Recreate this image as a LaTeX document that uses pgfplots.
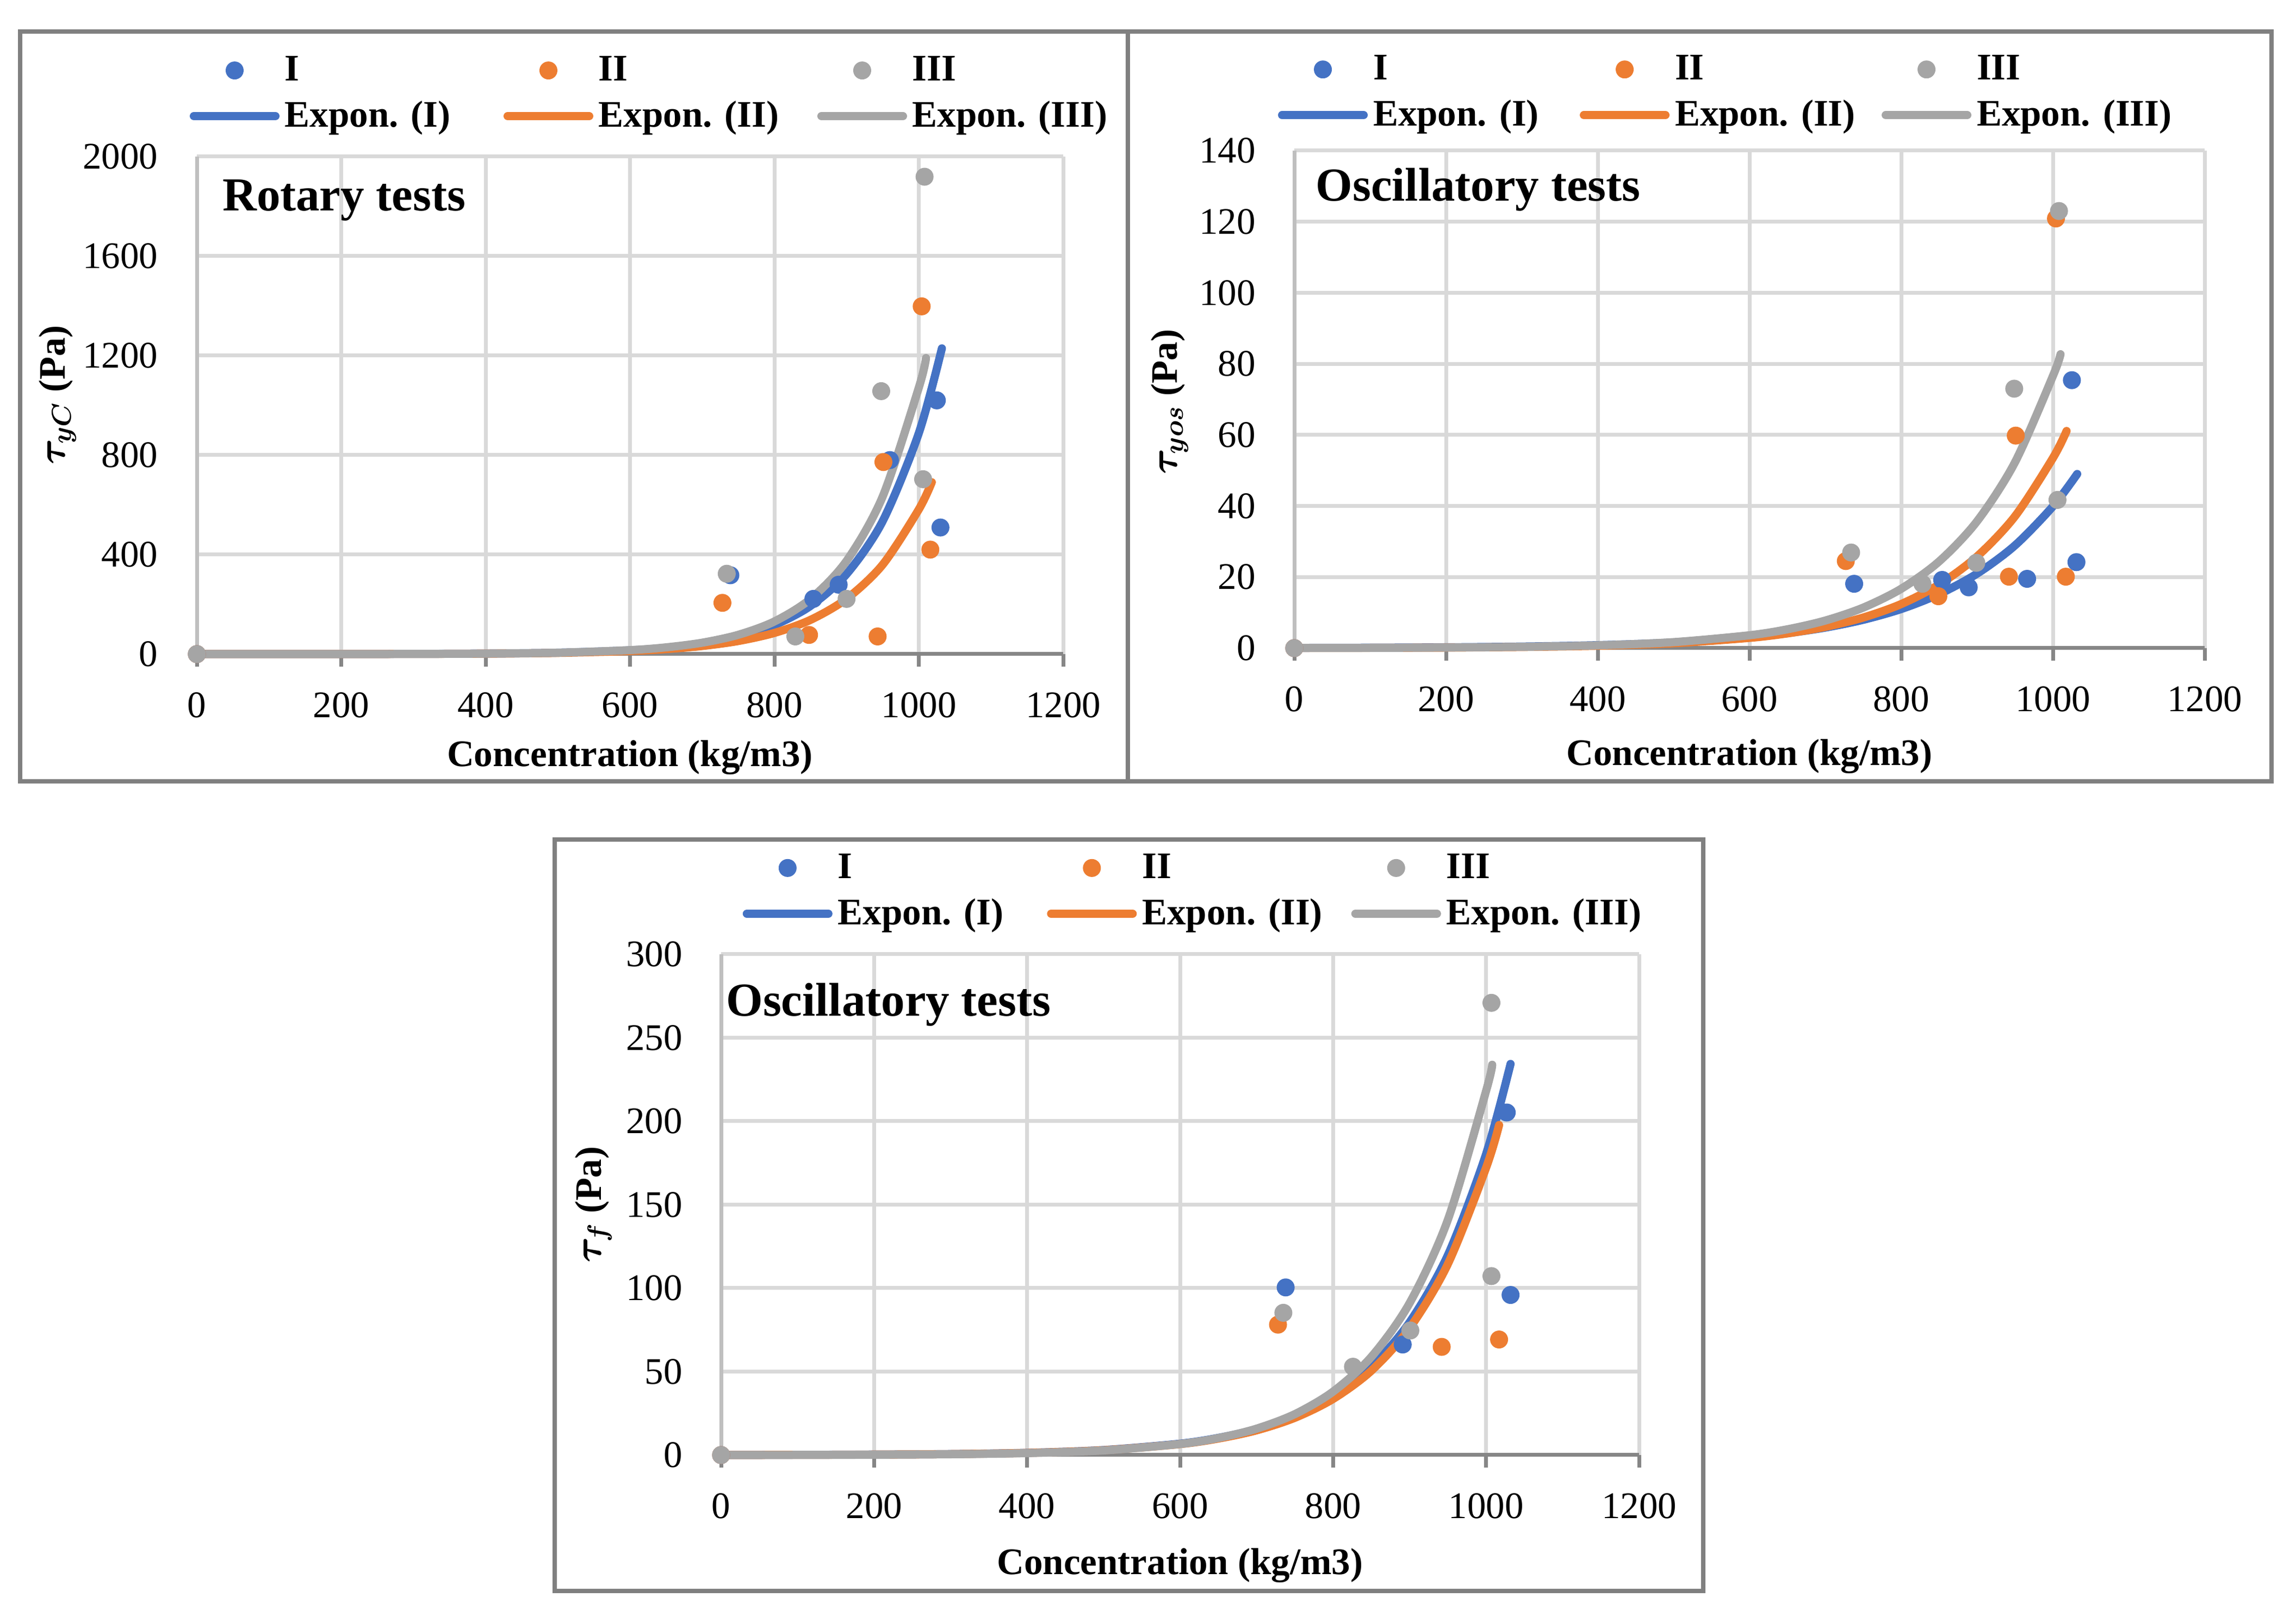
\documentclass[border=0pt]{standalone}
\usepackage{fontspec}
\setmainfont{Liberation Serif}
\usepackage{bm}
\usepackage{pgfplots}
\pgfplotsset{compat=1.18}

\definecolor{blueI}{HTML}{4472C4}
\definecolor{orangeII}{HTML}{ED7D31}
\definecolor{grayIII}{HTML}{A5A5A5}
\definecolor{gridgray}{HTML}{D9D9D9}
\definecolor{xaxgray}{HTML}{868686}
\definecolor{yaxgray}{HTML}{BFBFBF}
\definecolor{framegray}{HTML}{808080}

\newcommand{\chartfont}{\fontsize{13.8}{16}\selectfont}
\newcommand{\legbox}[1]{\makebox[68pt][l]{#1}}

\pgfplotsset{
  panel/.style={
    scale only axis, anchor=south west, clip=false,
    xmin=0, xmax=1200, xtick={0,200,...,1200}, ymin=0,
    axis x line*=bottom, axis y line*=left,
    grid=major, major grid style={draw=gridgray, line width=1.4pt},
    x axis line style={draw=xaxgray, line width=1.4pt},
    y axis line style={draw=yaxgray, line width=1.4pt},
    xtick style={draw=xaxgray, line width=1.4pt},
    ytick style={draw=none},
    tick align=outside, major tick length=4.6pt,
    /pgf/number format/assume math mode=true,
    /pgf/number format/1000 sep={},
    tick label style={font=\chartfont, inner sep=0pt},
    xticklabel style={yshift=-9.4pt},
    yticklabel style={xshift=-9.5pt},
    label style={font=\chartfont\bfseries, inner sep=0pt},
    title style={font=\fontsize{17.4}{20}\selectfont\bfseries, inner sep=0pt, anchor=base west},
    xlabel={Concentration (kg/m3)},
    legend columns=3,
    legend style={draw=none, fill=none, inner sep=0pt, row sep=2pt,
      font=\chartfont\bfseries, anchor=south west,
      /tikz/every odd column/.append style={column sep=0pt}},
  },
  dots/.style={only marks, mark=*, mark size=3.1pt, color=#1},
  trend/.style={no markers, smooth, color=#1, line width=3pt, line cap=round},
}

\begin{document}
\begin{tikzpicture}
\path (0pt,0pt) rectangle (844.4pt,592.2pt);
\draw[framegray, line width=1.6pt] (7.4pt,304.8pt) rectangle (414.8pt,580.6pt);
\draw[framegray, line width=1.6pt] (414.8pt,304.8pt) rectangle (835.4pt,580.6pt);
\draw[framegray, line width=1.6pt] (204pt,7pt) rectangle (626.4pt,283.4pt);

% Rotary tests
\begin{axis}[panel, at={(72.4pt,351.6pt)}, width=318.6pt, height=183pt,
  ymax=2000, ytick={0,400,...,2000},
  title={Rotary tests},
  title style={at={(axis description cs:0.029,0.858)}},
  xlabel style={at={(axis description cs:0.5,-0.226)}, anchor=base},
  ylabel={$\bm{\tau_{yC}}$ (Pa)},
  ylabel style={at={(axis description cs:-0.161,0.521)}, anchor=center},
  legend image code/.code={\draw[mark repeat=2, mark phase=2, #1] plot coordinates {(1.5pt,0pt) (16.5pt,0pt) (31.5pt,0pt)};},
  legend style={at={(axis description cs:-0.0088,1.039)},
    /tikz/every even column/.append style={column sep=10.4pt}}]
\addplot[dots=blueI] coordinates {(0,0) (739,317) (854,222) (889,279) (960,780) (1025,1020) (1030,509)};
\addlegendentry{\legbox{I}}
\addplot[dots=orangeII] coordinates {(0,0) (728,206) (848,77) (943,71) (951,772) (1004,1398) (1016,420)};
\addlegendentry{\legbox{II}}
\addplot[dots=grayIII] coordinates {(0,0) (734,323) (829,71) (900,222) (948,1057) (1006,703) (1008,1919)};
\addlegendentry{\legbox{III}}
\addplot[trend=blueI] coordinates {(0,0.035) (100,0.096) (200,0.264) (300,0.73) (400,2.01) (500,5.55) (600,15.3) (650,25.5) (700,42.3) (750,70.2) (800,116.7) (850,193.8) (900,321.8) (950,534.6) (1000,888) (1032,1229)};
\addlegendentry{\legbox{Expon. (I)}}
\addplot[trend=orangeII] coordinates {(0,0.039) (100,0.102) (200,0.267) (300,0.697) (400,1.82) (500,4.76) (600,12.45) (650,20.1) (700,32.5) (750,52.6) (800,85.1) (850,137.6) (900,222.5) (950,359.7) (1000,581.6) (1018,691)};
\addlegendentry{\legbox{Expon. (II)}}
\addplot[trend=grayIII] coordinates {(0,0.03) (100,0.084) (200,0.241) (300,0.689) (400,1.97) (500,5.62) (600,16.1) (650,27.2) (700,45.9) (750,77.6) (800,131.2) (850,221.8) (900,374.9) (950,633.7) (1000,1071) (1010,1190)};
\addlegendentry{\legbox{Expon. (III)}}
\end{axis}

% Oscillatory tests, tau_yos
\begin{axis}[panel, at={(476pt,353.8pt)}, width=334.8pt, height=183pt,
  ymax=140, ytick={0,20,...,140},
  title={Oscillatory tests},
  title style={at={(axis description cs:0.023,0.8665)}},
  xlabel style={at={(axis description cs:0.5,-0.236)}, anchor=base},
  ylabel={$\bm{\tau_{yos}}$ (Pa)},
  ylabel style={at={(axis description cs:-0.137,0.495)}, anchor=center},
  legend image code/.code={\draw[mark repeat=2, mark phase=2, #1] plot coordinates {(1.5pt,0pt) (16.5pt,0pt) (31.5pt,0pt)};},
  legend style={at={(axis description cs:-0.0185,1.029)},
    /tikz/every even column/.append style={column sep=6pt}}]
\addplot[dots=blueI] coordinates {(0,0) (738,18.1) (854,19.2) (889,17.1) (966,19.5) (1025,75.4) (1031,24.2)};
\addlegendentry{\legbox{I}}
\addplot[dots=orangeII] coordinates {(0,0) (727,24.5) (849,14.6) (942,20.1) (951,59.8) (1004,120.9) (1017,20.1)};
\addlegendentry{\legbox{II}}
\addplot[dots=grayIII] coordinates {(0,0) (734,26.9) (828,18.1) (899,24.0) (949,73.0) (1006,41.7) (1008,123.0)};
\addlegendentry{\legbox{III}}
\addplot[trend=blueI] coordinates {(0,0.064) (100,0.121) (200,0.231) (300,0.44) (400,0.837) (500,1.59) (600,3.04) (650,4.19) (700,5.78) (750,7.97) (800,11.0) (850,15.2) (900,20.96) (950,28.9) (1000,39.9) (1032,49.0)};
\addlegendentry{\legbox{Expon. (I)}}
\addplot[trend=orangeII] coordinates {(0,0.036) (100,0.074) (200,0.154) (300,0.321) (400,0.667) (500,1.38) (600,2.88) (650,4.14) (700,5.97) (750,8.61) (800,12.4) (850,17.9) (900,25.8) (950,37.1) (1000,53.5) (1018,61.1)};
\addlegendentry{\legbox{Expon. (II)}}
\addplot[trend=grayIII] coordinates {(0,0.037) (100,0.080) (200,0.171) (300,0.367) (400,0.787) (500,1.69) (600,3.62) (650,5.30) (700,7.76) (750,11.4) (800,16.7) (850,24.4) (900,35.7) (950,52.3) (1000,76.6) (1010,82.7)};
\addlegendentry{\legbox{Expon. (III)}}
\end{axis}

% Oscillatory tests, tau_f
\begin{axis}[panel, at={(265.2pt,57pt)}, width=337.6pt, height=184.2pt,
  ymax=300, ytick={0,50,...,300},
  title={Oscillatory tests},
  title style={at={(axis description cs:0.005,0.844)}},
  xlabel style={at={(axis description cs:0.5,-0.238)}, anchor=base},
  ylabel={$\bm{\tau_{f}}$ (Pa)},
  ylabel style={at={(axis description cs:-0.139,0.50)}, anchor=center},
  legend image code/.code={\draw[mark repeat=2, mark phase=2, #1] plot coordinates {(1.5pt,0pt) (16.5pt,0pt) (31.5pt,0pt)};},
  legend style={at={(axis description cs:0.023,1.039)},
    /tikz/every even column/.append style={column sep=6.9pt}}]
\addplot[dots=blueI] coordinates {(0,0) (738,100.4) (891,66.2) (1027,205.2) (1032,95.9)};
\addlegendentry{\legbox{I}}
\addplot[dots=orangeII] coordinates {(0,0) (728,78.1) (942,64.8) (1017,69.2)};
\addlegendentry{\legbox{II}}
\addplot[dots=grayIII] coordinates {(0,0) (735,85.2) (826,52.9) (901,74.6) (1007,107.2) (1007,270.9)};
\addlegendentry{\legbox{III}}
\addplot[trend=blueI] coordinates {(0,0.05) (100,0.113) (200,0.257) (300,0.584) (400,1.32) (500,3.0) (600,6.81) (650,10.3) (700,15.4) (750,23.3) (800,35.0) (850,52.8) (900,79.5) (950,119.7) (1000,180.3) (1032,234.3)};
\addlegendentry{\legbox{Expon. (I)}}
\addplot[trend=orangeII] coordinates {(0,0.049) (100,0.110) (200,0.250) (300,0.565) (400,1.28) (500,2.89) (600,6.55) (650,9.86) (700,14.8) (750,22.3) (800,33.6) (850,50.5) (900,76.0) (950,114.4) (1000,172.1) (1017,197.7)};
\addlegendentry{\legbox{Expon. (II)}}
\addplot[trend=grayIII] coordinates {(0,0.035) (100,0.084) (200,0.200) (300,0.48) (400,1.15) (500,2.76) (600,6.61) (650,10.2) (700,15.8) (750,24.5) (800,38.0) (850,58.8) (900,91.0) (950,140.9) (1000,218.1) (1008,233.8)};
\addlegendentry{\legbox{Expon. (III)}}
\end{axis}
\end{tikzpicture}
\end{document}
